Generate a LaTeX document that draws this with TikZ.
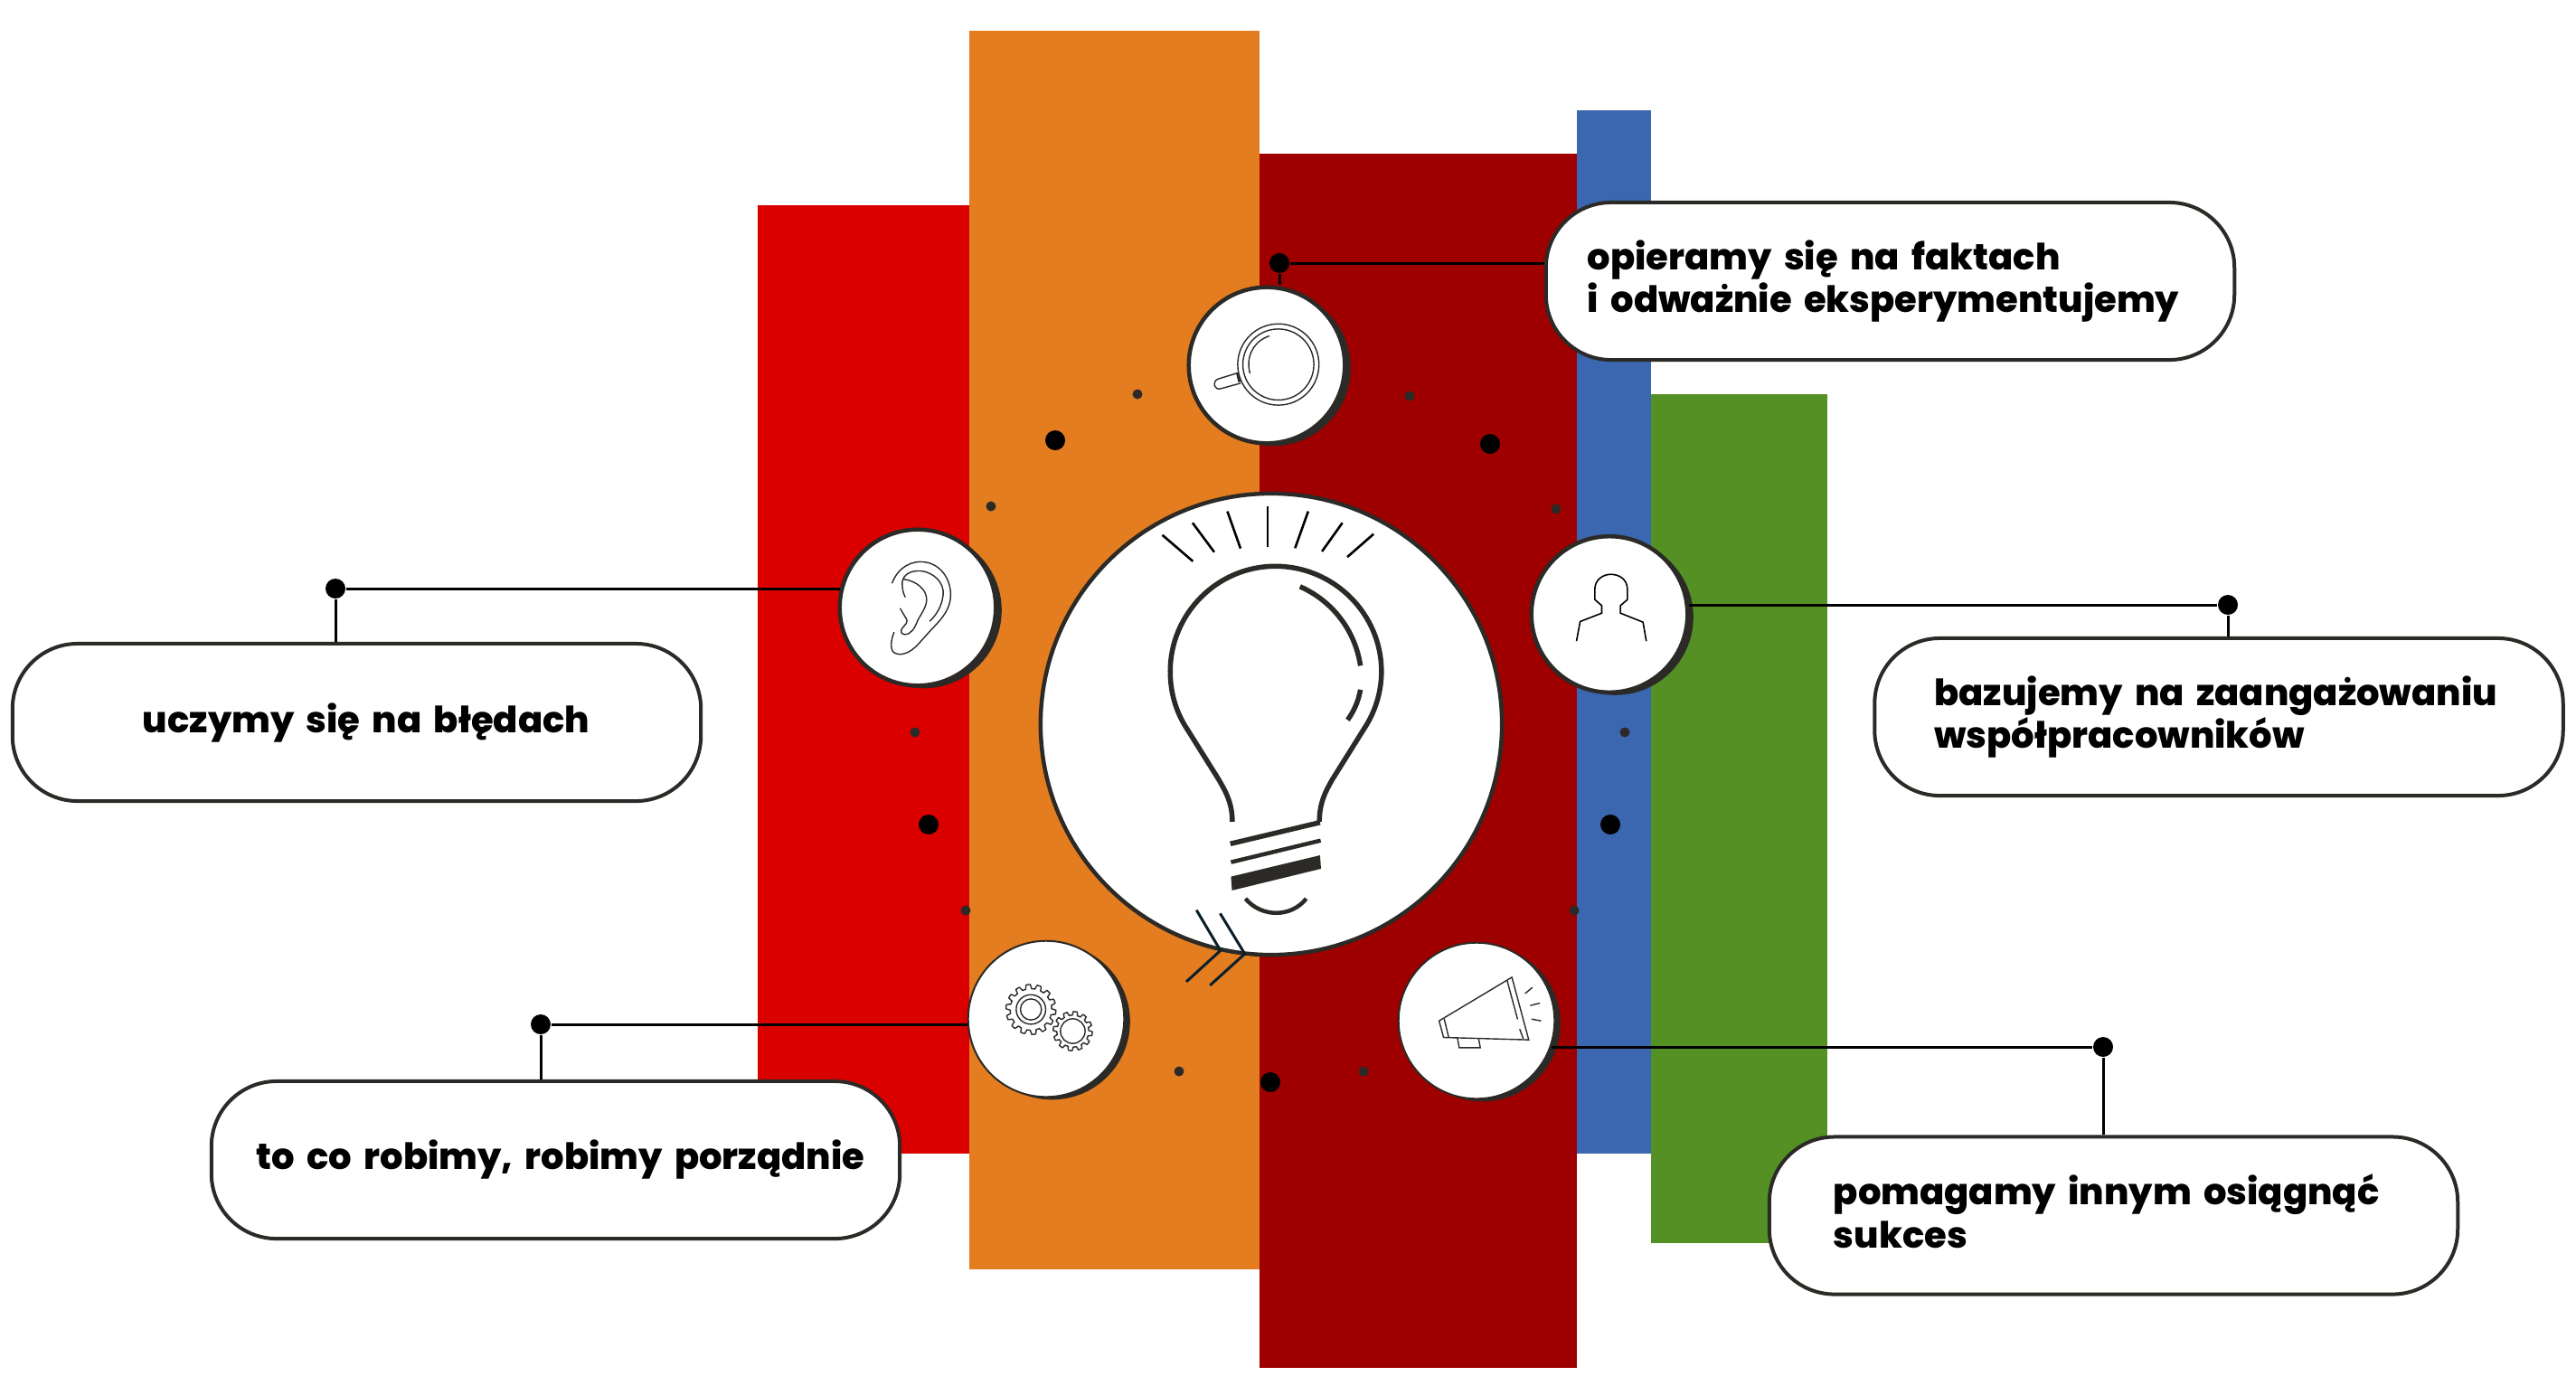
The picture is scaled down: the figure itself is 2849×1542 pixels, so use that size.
\documentclass[tikz,border=0pt]{standalone}
\usepackage{fontspec}
\setmainfont{Poppins}[BoldFont={Poppins ExtraBold}]
\usepackage{xcolor}
\usetikzlibrary{shadows, positioning}

\definecolor{barred}{HTML}{DA0000}
\definecolor{barorange}{HTML}{E37D1F}
\definecolor{barmaroon}{HTML}{9E0000}
\definecolor{barblue}{HTML}{3B66B0}
\definecolor{bargreen}{HTML}{549023}
\definecolor{inkdark}{HTML}{2B2A26}
\definecolor{inknavy}{HTML}{0A1F2C}

\newcommand{\gearwheel}[5]{\draw[iconline, shift={(#1,#2)}] plot[domain=0:360, samples=361] (\x:{#3+#4*max(min(2.5*sin(#5*\x),1),-1)}) -- cycle;}

\begin{document}
\begin{tikzpicture}[
        x=0.01cm, y=-0.01cm,
        lead/.style={draw=black, line width=0.03cm},
        bigdot/.style={circle, fill=black, minimum size=0.22cm, inner sep=0},
        smalldot/.style={circle, fill=inkdark, minimum size=0.11cm, inner sep=0},
        badge/.style={circle, draw=inkdark, fill=white, line width=0.045cm, minimum size=1.725cm, inner sep=0,
          general shadow={fill=inkdark, shadow xshift=0.065cm, shadow yshift=-0.03cm}},
        thinbadge/.style={badge, line width=0.02cm},
        talkbox/.style={rectangle, draw=inkdark, fill=white, line width=0.04cm, rounded corners=0.72cm,
          minimum width=7.61cm, minimum height=1.74cm, inner sep=0, align=left,
          font=\fontsize{11.4}{13.6}\selectfont\bfseries},
        iconline/.style={draw=inkdark, line width=0.014cm},
        bulbline/.style={draw=inkdark, line width=0.055cm},
        rayline/.style={draw=black, line width=0.026cm},
        chevron/.style={draw=inknavy, line width=0.03cm},
        zoomone/.style={x=0.003635cm, y=-0.003635cm},
        zoomthree/.style={x=0.003333cm, y=-0.003333cm}
      ]
      \useasboundingbox (0,0) rectangle (2849,1542);
      \fill[white] (0,0) rectangle (2849,1542);

      % bars
      \fill[barred] (838,227) rectangle (1072,1276);
      \fill[barorange] (1072,34) rectangle (1393,1404);
      \fill[barmaroon] (1393,170) rectangle (1744,1513);
      \fill[barblue] (1744,122) rectangle (1826,1276);
      \fill[bargreen] (1826,436) rectangle (2021,1375);

      % small and big dots
      \foreach \i/\px/\py in {a/1258/436, b/1559/438, c/1096/560, d/1721/563, e/1012/810, f/1797/810, g/1068/1007, h/1741/1007, i/1304/1185, j/1508/1185}
        \node[smalldot] (small\i) at (\px,\py) {};
      \foreach \i/\px/\py in {a/1167/487, b/1648/491, c/1027/912, d/1781/912, e/1405/1197}
        \node[bigdot] (big\i) at (\px,\py) {};

      % central circle and badges
      \node[circle, draw=inkdark, fill=white, line width=0.045cm, minimum size=5.1cm, inner sep=0] (lamp) at (1406,801) {};
      \node[badge] (cup) at (1401,404) {};
      \node[badge] (ear) at (1015,672) {};
      \node[badge] (person) at (1780,679.5) {};
      \node[thinbadge] (gears) at (1157,1127) {};
      \node[thinbadge] (horn) at (1633,1129) {};

      % text boxes
      \node[talkbox, text width=6.69cm] (boxcup) at (2090.5,311) {opieramy się na faktach\\i odważnie eksperymentujemy};
      \node[talkbox, text width=4.73cm] (boxear) at (394.5,799) {\mbox{uczymy się na błędach}};
      \node[talkbox, text width=6.29cm] (boxperson) at (2454,793) {bazujemy na zaangażowaniu\\współpracowników};
      \node[talkbox, text width=6.61cm] (boxgears) at (614.5,1283) {\mbox{to co robimy, robimy porządnie}};
      \node[talkbox, text width=6.19cm] (boxhorn) at (2337.5,1344.5) {pomagamy innym osiągnąć\\sukces\vphantom{y}};

      % end dots and their leads
      \node[bigdot] (dotcup) at (1415,291) {};
      \node[bigdot] (dotear) at (371,651) {};
      \node[bigdot] (dotperson) at (2464,669) {};
      \node[bigdot] (dotgears) at (598,1133) {};
      \node[bigdot] (dothorn) at (2326,1158) {};

      \draw[lead] (boxcup.west |- dotcup) -- (dotcup) -- (cup.north -| dotcup);
      \draw[lead] (ear.166 |- dotear) -- (dotear) -- (boxear.north -| dotear);
      \draw[lead] (person.7.5 |- dotperson) -- (dotperson) -- (boxperson.north -| dotperson);
      \draw[lead] (gears.west |- dotgears) -- (dotgears) -- (boxgears.north -| dotgears);
      \draw[lead] (horn.-18 |- dothorn) -- (dothorn) -- (boxhorn.north -| dothorn);

      % bulb
      \begin{scope}[shift={(1130,530)}, zoomone]
        \draw[bulbline] (641,1043) .. controls (641,985) and (620,950) .. (600,915) -- (503,760)
          .. controls (470,710) and (452,650) .. (452,585) .. controls (452,410) and (595,265) .. (772,265)
          .. controls (950,265) and (1095,410) .. (1095,585) .. controls (1095,650) and (1075,710) .. (1042,760)
          -- (945,915) .. controls (925,950) and (906,985) .. (906,1043);
        \draw[bulbline] (847,327) .. controls (945,370) and (1015,460) .. (1031,568);
        \draw[bulbline] (1031,641) .. controls (1025,675) and (1012,705) .. (992,733);
        \draw[bulbline] (635,1110) -- (908,1045);
        \draw[bulbline, line width=0.045cm] (637,1166) -- (910,1100);
        \fill[inkdark] (637,1210) -- (908,1145) -- (911,1186) -- (640,1252) -- cycle;
        \draw[bulbline, line width=0.045cm] (681,1277) .. controls (730,1335) and (820,1335) .. (866,1277);
        \foreach \ax/\ay/\bx/\by in {428/170/521/250, 520/133/586/222, 626/98/666/211, 749/82/749/206, 872/98/832/210, 976/133/914/220, 1071/167/991/237}
          \draw[rayline] (\ax,\ay) -- (\bx,\by);
        \draw[chevron] (532,1312) -- (605,1435) -- (501,1530);
        \draw[chevron] (604,1322) -- (679,1445) -- (573,1541);
      \end{scope}

      % cup icon
      \begin{scope}[shift={(1290,300)}, zoomthree]
        \draw[iconline] (372,310) circle[radius=135];
        \draw[iconline] (372,310) circle[radius=118];
        \draw[iconline] (342,215) .. controls (290,232) and (262,285) .. (278,340);
        \draw[iconline] (237,338) -- (172,358) .. controls (150,366) and (158,398) .. (182,390) -- (247,372);
        \draw[iconline, line width=0.03cm] (236,338) -- (243,368);
      \end{scope}

      % ear icon
      \begin{scope}[shift={(910,570)}, zoomthree]
        \draw[iconline] (230,226) .. controls (250,170) and (300,150) .. (335,155) .. controls (390,160) and (425,210) .. (425,265)
          .. controls (425,310) and (395,345) .. (365,375) -- (320,425) .. controls (290,460) and (255,470) .. (235,455)
          .. controls (222,440) and (228,410) .. (237,388);
        \draw[iconline] (355,352) .. controls (385,325) and (402,285) .. (400,250) .. controls (395,210) and (350,180) .. (310,185)
          .. controls (280,188) and (262,205) .. (264,232) .. controls (265,250) and (268,260) .. (274,272);
        \draw[iconline] (268,212) .. controls (310,218) and (345,245) .. (345,280) .. controls (345,305) and (325,330) .. (315,350)
          .. controls (305,375) and (295,395) .. (272,396) .. controls (255,395) and (258,378) .. (270,368)
          .. controls (285,355) and (280,345) .. (272,335) -- (257,309);
      \end{scope}

      % person icon
      \begin{scope}[shift={(1680,580)}, zoomthree]
        \draw[iconline, draw=black, line width=0.016cm] (191,388) -- (203,323) -- (275,295) -- (275,270) -- (252,250) -- (252,215)
          .. controls (252,185) and (278,166) .. (305,166) .. controls (335,166) and (360,185) .. (360,215)
          -- (360,250) -- (337,270) -- (337,295) -- (412,325) -- (423,388);
      \end{scope}

      % gears icon
      \begin{scope}[shift={(1050,1030)}, zoomthree]
        \gearwheel{271}{260}{76}{7}{14}
        \draw[iconline] (271,260) circle[radius=49];
        \draw[iconline] (271,260) circle[radius=35];
        \gearwheel{410}{332}{59}{6}{12}
        \draw[iconline] (410,332) circle[radius=41];
      \end{scope}

      % megaphone icon
      \begin{scope}[shift={(1530,1030)}, zoomthree]
        \draw[iconline] (185,298) -- (427,153) -- (483,361) -- (200,353) -- cycle;
        \draw[iconline] (202,291) -- (217,353);
        \draw[iconline] (411,163) -- (446,293);
        \draw[iconline] (453,325) -- (465,358);
        \draw[iconline] (246,355) -- (252,387) -- (322,387) -- (316,355);
        \draw[iconline] (471,207) -- (495,187);
        \draw[iconline] (488,247) -- (520,239);
        \draw[iconline] (492,292) -- (524,298);
      \end{scope}
    \end{tikzpicture}
\end{document}
